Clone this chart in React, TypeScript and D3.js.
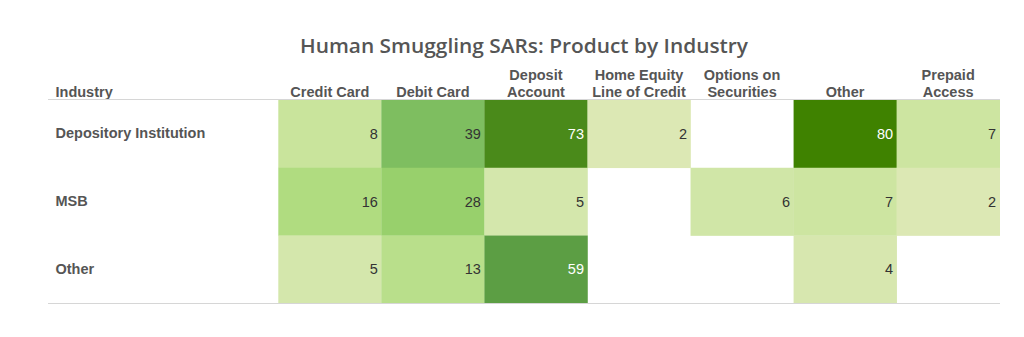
import React from "react";
import * as d3 from "d3";

const title = "Human Smuggling SARs: Product by Industry";
const rowHeader = "Industry";
const industries = ["Depository Institution", "MSB", "Other"];
const products = [
  ["Credit Card"],
  ["Debit Card"],
  ["Deposit", "Account"],
  ["Home Equity", "Line of Credit"],
  ["Options on", "Securities"],
  ["Other"],
  ["Prepaid", "Access"],
];
// null = no data
const depositoryValues = [8, 39, 73, 2, null, 80, 7];
const msbValues = [16, 28, 5, null, 6, 7, 2];
const otherValues = [5, 13, 59, null, null, 4, null];

const colorStops = [2, 5, 8, 16, 28, 39, 59, 73, 80];
const colorRange = ["#dce8b4", "#d4e7ac", "#c9e49c", "#b0dc80", "#98d06c", "#7ebe60", "#5c9e44", "#4a8a1a", "#3f8200"];

export default function App() {
  const W = 1024, H = 337;
  const rows = [depositoryValues, msbValues, otherValues];
  const x = d3.scaleBand<number>().domain(d3.range(products.length)).range([278.3, 999.7]).padding(0);
  const y = d3.scaleBand<number>().domain(d3.range(industries.length)).range([100, 303.3]).padding(0);
  const color = d3.scaleLinear<string>().domain(colorStops).range(colorRange).interpolate(d3.interpolateRgb);
  const headFont = "'Liberation Sans', Arial, sans-serif";
  const fs = 14.5;
  return (
    <svg width={W} height={H} style={{ position: "absolute", left: 0, top: 0, background: "#fff" }}>
      <text x={524} y={53} textAnchor="middle" fontFamily="'Open Sans', sans-serif" fontWeight={600} fontSize={20.5} fill="#555" textLength={448} lengthAdjust="spacingAndGlyphs">
        {title}
      </text>
      <text x={55.5} y={96.5} fontFamily={headFont} fontWeight="bold" fontSize={fs} fill="#555">{rowHeader}</text>
      {products.map((lines, i) => (
        <text key={i} x={x(i)! + x.bandwidth() / 2} textAnchor="middle" fontFamily={headFont} fontWeight="bold" fontSize={fs} fill="#555">
          {lines.map((l, j) => (
            <tspan key={j} x={x(i)! + x.bandwidth() / 2} y={96.5 - (lines.length - 1 - j) * 17}>{l}</tspan>
          ))}
        </text>
      ))}
      {industries.map((ind, r) => (
        <text key={ind} x={55.5} y={y(r)! + y.bandwidth() / 2 + 4.5} fontFamily={headFont} fontWeight="bold" fontSize={fs} fill="#555">{ind}</text>
      ))}
      {rows.map((vals, r) =>
        vals.map((v, c) =>
          v == null ? null : (
            <g key={`${r}-${c}`}>
              <rect x={x(c)!} y={y(r)!} width={x.bandwidth() + 0.3} height={y.bandwidth() + 0.3} fill={color(v)} />
              <text x={x(c)! + x.bandwidth() - 3.5} y={y(r)! + y.bandwidth() / 2 + 5} textAnchor="end" fontFamily={headFont} fontSize={fs} fill={v > 50 ? "#fff" : "#333"}>{v}</text>
            </g>
          )
        )
      )}
      <line x1={48} x2={1000} y1={99.5} y2={99.5} stroke="#d6d6d6" strokeWidth={1} />
      <line x1={48} x2={1000} y1={303.5} y2={303.5} stroke="#d6d6d6" strokeWidth={1} />
    </svg>
  );
}
